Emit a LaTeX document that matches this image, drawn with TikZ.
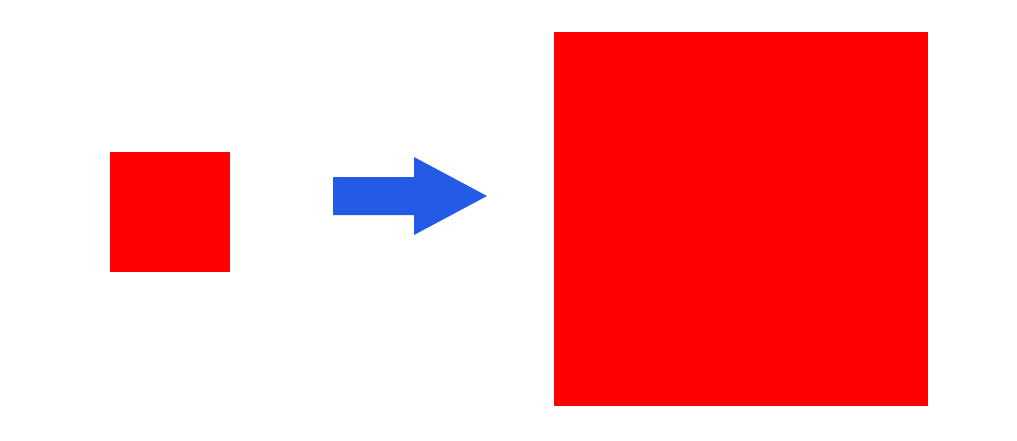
\documentclass[tikz,border=0pt]{standalone}
\definecolor{arrowblue}{RGB}{35,90,230}
\begin{document}
\begin{tikzpicture}[x=1pt,y=-1pt,
  sq/.style={fill=red,draw=none},
  bigarrow/.style={fill=arrowblue,draw=none}]
\useasboundingbox (0,0) rectangle (1017,440);
\fill[white] (0,0) rectangle (1017,440);
\path[sq] (110,152) rectangle (230,272);
\path[bigarrow] (333,177) -- (414,177) -- (414,157) -- (487,196) -- (414,235) -- (414,215) -- (333,215) -- cycle;
\path[sq] (554,32) rectangle (928,406);
\end{tikzpicture}
\end{document}
